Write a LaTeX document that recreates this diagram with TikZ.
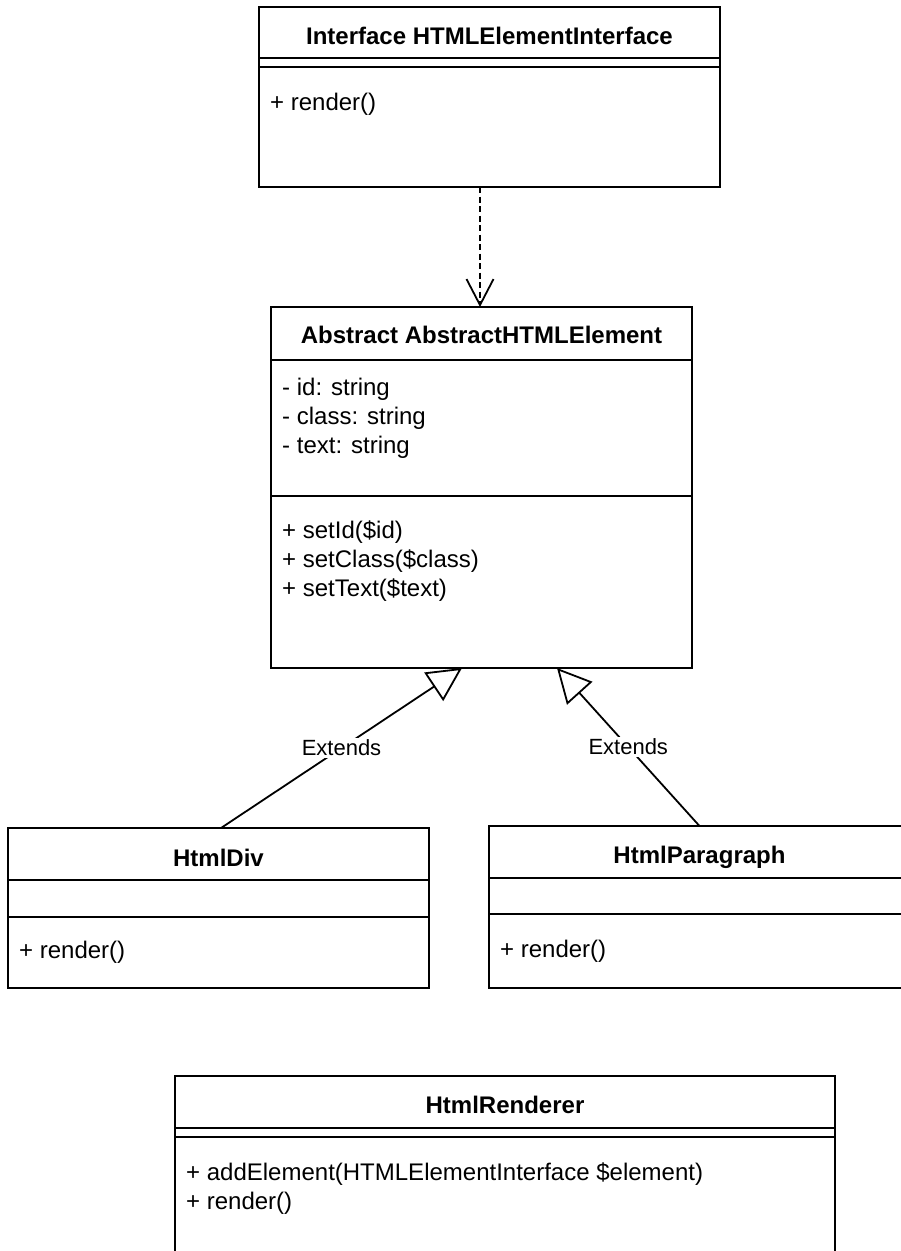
\documentclass[tikz,border=0pt]{standalone}
\usepackage{fontspec}
\setmainfont{Liberation Sans}
\usetikzlibrary{arrows.meta}
\begin{document}
\begin{tikzpicture}[x=1pt,y=-1pt,
  umlbox/.style={draw, line width=2pt, inner sep=0pt, outer sep=0pt, anchor=north west, fill=white},
  compline/.style={line width=2pt},
  classname/.style={font=\fontsize{24}{28.8}\selectfont\bfseries, anchor=base, inner sep=0pt},
  member/.style={font=\fontsize{24}{28.8}\selectfont, anchor=base west, inner sep=0pt},
  rel/.style={line width=1.8pt},
  realize/.style={rel, dash pattern=on 6pt off 3.5pt, -{Straight Barb[length=26pt,width=27pt]}},
  generalize/.style={rel, -{Triangle[open, length=34pt, width=34pt]}},
  edgelabel/.style={font=\fontsize{22}{26}\selectfont, fill=white, inner sep=2pt},
]
\useasboundingbox (0,0) rectangle (901,1251);
\fill[white] (0,0) rectangle (901,1251);
\clip (0,0) rectangle (901,1251);

% ---- interface ----
\node[umlbox, minimum width=461pt, minimum height=180pt] (iface) at (259,7) {};
\draw[compline] (iface.west |- 0,58) -- (iface.east |- 0,58);
\draw[compline] (iface.west |- 0,67) -- (iface.east |- 0,67);
\node[classname] (ifaceName) at (489.5,44) {Interface HTMLElementInterface};
\node[member] (ifaceM1) at (270,110) {+ render()};

% ---- abstract class ----
\node[umlbox, minimum width=421pt, minimum height=361pt] (abs) at (271,307) {};
\draw[compline] (abs.west |- 0,360) -- (abs.east |- 0,360);
\draw[compline] (abs.west |- 0,496) -- (abs.east |- 0,496);
\node[classname] (absName) at (481.5,343) {Abstract AbstractHTMLElement};
\node[member] (absA1) at (282,395) {- id: string};
\node[member] (absA2) at (282,424) {- class: string};
\node[member] (absA3) at (282,453) {- text: string};
\node[member] (absM1) at (282,538) {+ setId(\$id)};
\node[member] (absM2) at (282,567) {+ setClass(\$class)};
\node[member] (absM3) at (282,596) {+ setText(\$text)};

% ---- HtmlDiv ----
\node[umlbox, minimum width=421pt, minimum height=160pt] (div) at (8,828) {};
\draw[compline] (div.west |- 0,880) -- (div.east |- 0,880);
\draw[compline] (div.west |- 0,917) -- (div.east |- 0,917);
\node[classname] (divName) at (218.5,866) {HtmlDiv};
\node[member] (divM1) at (19,958) {+ render()};

% ---- HtmlParagraph ----
\node[umlbox, minimum width=421pt, minimum height=162pt] (para) at (489,826) {};
\draw[compline] (para.west |- 0,878) -- (para.east |- 0,878);
\draw[compline] (para.west |- 0,914) -- (para.east |- 0,914);
\node[classname] (paraName) at (699.5,863) {HtmlParagraph};
\node[member] (paraM1) at (500,957) {+ render()};

% ---- HtmlRenderer ----
\node[umlbox, minimum width=660pt, minimum height=260pt] (rend) at (175,1076) {};
\draw[compline] (rend.west |- 0,1128) -- (rend.east |- 0,1128);
\draw[compline] (rend.west |- 0,1137) -- (rend.east |- 0,1137);
\node[classname] (rendName) at (505,1113) {HtmlRenderer};
\node[member] (rendM1) at (186,1180) {+ addElement(HTMLElementInterface \$element)};
\node[member] (rendM2) at (186,1209) {+ render()};

% ---- relations ----
\draw[realize] ([xshift=-1.5pt]abs.north |- iface.south) -- ([xshift=-1.5pt]abs.north);
\draw[generalize] ([xshift=2.5pt]div.north) -- node[edgelabel] (extL) {Extends} ([xshift=-19.5pt]abs.south);
\draw[generalize] (para.north) -- node[edgelabel] (extR) {Extends} ([xshift=75.5pt]abs.south);
\end{tikzpicture}
\end{document}
